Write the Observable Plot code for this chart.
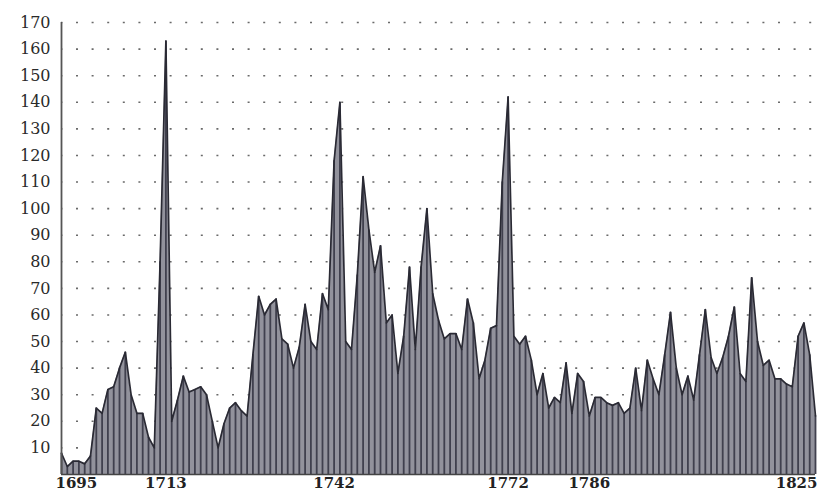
<!DOCTYPE html>
<html>
<head>
<meta charset="utf-8">
<script src="https://cdn.jsdelivr.net/npm/d3@7"></script>
<script src="https://cdn.jsdelivr.net/npm/@observablehq/plot@0.6"></script>
<style>
  html, body { margin: 0; padding: 0; background: #fff; }
  #chart svg { display: block; }
</style>
</head>
<body>
<div id="chart"></div>
<script>
const firstYear = 1695;
const lastYear = 1825;
const values = [
  8, 3, 5, 5, 4, 7, 25, 23, 32, 33,        // 1695-1704
  40, 46, 30, 23, 23, 14, 10, 80, 163, 20, // 1705-1714
  28, 37, 31, 32, 33, 30, 20, 10, 19, 25,  // 1715-1724
  27, 24, 22, 45, 67, 60, 64, 66, 51, 49,  // 1725-1734
  40, 48, 64, 50, 47, 68, 62, 118, 140, 50,// 1735-1744
  47, 75, 112, 92, 76, 86, 57, 60, 38, 52, // 1745-1754
  78, 47, 78, 100, 68, 58, 51, 53, 53, 47, // 1755-1764
  66, 57, 36, 43, 55, 56, 110, 142, 52, 49,// 1765-1774
  52, 43, 30, 38, 25, 29, 27, 42, 23, 38,  // 1775-1784
  35, 22, 29, 29, 27, 26, 27, 23, 25, 40,  // 1785-1794
  24, 43, 36, 30, 45, 61, 40, 30, 37, 28,  // 1795-1804
  45, 62, 44, 38, 44, 52, 63, 38, 35, 74,  // 1805-1814
  50, 41, 43, 36, 36, 34, 33, 52, 57, 45,  // 1815-1824
  22                                       // 1825
];
const years = d3.range(firstYear, lastYear + 1);
const xTickLabels = [1695, 1713, 1742, 1772, 1786, 1825];
const yTicks = [10, 20, 30, 40, 50, 60, 70, 80, 90, 100, 110, 120, 130, 140, 150, 160, 170];

const data = years.map((year, i) => ({year, value: values[i]}));
const midTicks = xTickLabels.slice(1, -1);
const labelStyle = {tickSize: 0, tickPadding: 3, fontSize: 15, fontFamily: "DejaVu Serif", fontWeight: "bold", fill: "#222", label: null, tickFormat: d => String(d)};

const plot = Plot.plot({
  width: 818,
  height: 491,
  marginLeft: 61,
  marginRight: 3,
  marginTop: 22,
  marginBottom: 17,
  x: {domain: [firstYear, lastYear]},
  y: {domain: [0, 170]},
  style: {background: "#fff"},
  marks: [
    Plot.ruleY(yTicks, {stroke: "#6a6a6a", strokeWidth: 1.6, strokeDasharray: "2,13.6", strokeDashoffset: -15}),
    Plot.areaY(data, {x: "year", y: "value", fill: "#92929c", curve: "linear"}),
    Plot.ruleX(data, {x: "year", y1: 0, y2: "value", stroke: "#40404e", strokeWidth: 1.8}),
    Plot.lineY(data, {x: "year", y: "value", stroke: "#2a2a34", strokeWidth: 1.7, curve: "linear"}),
    Plot.ruleX([firstYear], {y1: 0, y2: 170, stroke: "#555", strokeWidth: 1.8}),
    Plot.ruleY([0], {stroke: "#444", strokeWidth: 1.6}),
    Plot.axisY({ticks: yTicks, tickSize: 0, tickPadding: 11, fontSize: 16, fontFamily: "DejaVu Serif", fill: "#2a2a2a", label: null}),
    Plot.axisX({ticks: midTicks, ...labelStyle}),
    Plot.axisX({ticks: [xTickLabels[0]], ...labelStyle, textAnchor: "start", dx: -6}),
    Plot.axisX({ticks: [xTickLabels[xTickLabels.length - 1]], ...labelStyle, textAnchor: "end", dx: 2})
  ]
});
document.getElementById("chart").appendChild(plot);
</script>
</body>
</html>
